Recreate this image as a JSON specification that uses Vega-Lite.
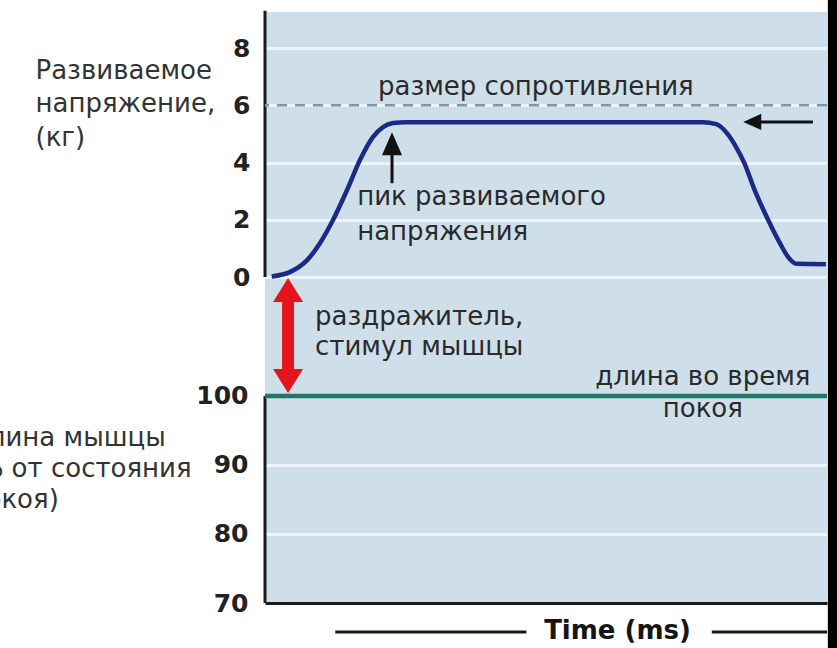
{
  "$schema": "https://vega.github.io/schema/vega-lite/v6.json",
  "width": 562,
  "height": 591,
  "autosize": {"type": "none"},
  "padding": {"left": 265, "top": 12, "right": 10, "bottom": 45},
  "background": "white",
  "config": {"font": "DejaVu Sans", "view": {"fill": "#cfdfea", "stroke": null}},
  "datasets": {
    "frameTop": [{"t": 0, "v": 0, "v2": 9.3}],
    "refTop": [{"v": 6}],
    "curve": [
      {"t": 1.2, "v": 0.02}, {"t": 4.4, "v": 0.17}, {"t": 7.5, "v": 0.59}, {"t": 9.8, "v": 1.19},
      {"t": 12.1, "v": 1.99}, {"t": 14.6, "v": 3.04}, {"t": 16.9, "v": 4.09}, {"t": 19.2, "v": 4.89},
      {"t": 21.0, "v": 5.24}, {"t": 22.8, "v": 5.38}, {"t": 25.0, "v": 5.41}, {"t": 77.9, "v": 5.41},
      {"t": 80.3, "v": 5.34}, {"t": 82.3, "v": 5.0}, {"t": 83.8, "v": 4.55}, {"t": 85.3, "v": 3.98},
      {"t": 87.0, "v": 3.1}, {"t": 89.3, "v": 2.09}, {"t": 91.6, "v": 1.19}, {"t": 93.4, "v": 0.62},
      {"t": 94.6, "v": 0.46}, {"t": 99.8, "v": 0.45}
    ],
    "shaftsTop": [
      {"t": 22.6, "t2": 22.6, "v": 3.28, "v2": 4.5},
      {"t": 87.5, "t2": 97.5, "v": 5.42, "v2": 5.42}
    ],
    "headUp": [{"t": 22.6, "v": 4.66}],
    "headLeft": [{"t": 86.7, "v": 5.42}],
    "stimShaft": [{"t": 4.1, "v": -0.7, "v2": -3.4}],
    "stimUp": [{"t": 4.1, "v": -0.45}],
    "stimDown": [{"t": 4.1, "v": -3.63}],
    "notesTop": [
      {"t": 20.1, "v": 6.36, "label": "размер сопротивления"},
      {"t": 16.4, "v": 2.52, "label": "пик развиваемого"},
      {"t": 16.4, "v": 1.29, "label": "напряжения"},
      {"t": 8.9, "v": -1.68, "label": "раздражитель,"},
      {"t": 8.9, "v": -2.73, "label": "стимул мышцы"}
    ],
    "strip": [{"t": 100.15, "t2": 102, "v": 9.8, "v2": -13.5}],
    "frameBottom": [{"t": 0, "len": 70, "len2": 100}],
    "restLine": [{"len": 100}],
    "notesBottom": [
      {"t": 77.9, "len": 101.6, "label": "длина во время"},
      {"t": 77.9, "len": 96.96, "label": "покоя"}
    ],
    "timeLines": [
      {"t": 12.5, "t2": 46.5, "len": 65.8},
      {"t": 79.5, "t2": 100, "len": 65.8}
    ]
  },
  "layer": [
    {
      "layer": [
        {
          "data": {"name": "frameTop"},
          "mark": {"type": "rule", "color": "#1a1a1a", "strokeWidth": 3},
          "encoding": {
            "x": {"field": "t", "type": "quantitative", "scale": {"domain": [0, 100], "nice": false, "zero": false},
              "axis": {"title": "Time (ms)", "labels": false, "ticks": false, "grid": false, "domain": true,
                "domainColor": "#1a1a1a", "domainWidth": 3, "titleFontSize": 26, "titleFontWeight": "bold",
                "titleColor": "#151515", "titleX": 352, "titleY": 35, "titleBaseline": "alphabetic", "titleAlign": "center"}},
            "y": {"field": "v", "type": "quantitative", "scale": {"domain": [-11.39, 9.26], "nice": false, "zero": false},
              "axis": {"orient": "left", "values": [0, 2, 4, 6, 8], "grid": true, "gridColor": "#edf5f9", "gridWidth": 3,
                "domain": false, "ticks": false, "labelFontSize": 25, "labelFontWeight": "bold", "labelColor": "#222",
                "labelPadding": 15, "labelOverlap": false,
                "title": ["Развиваемое", "напряжение,", "(кг)"], "titleAngle": 0, "titleAlign": "left",
                "titleBaseline": "alphabetic", "titleX": -230, "titleY": 66, "titleFontSize": 26,
                "titleFontWeight": "normal", "titleColor": "#333", "titleLineHeight": 33.5}},
            "y2": {"field": "v2"}
          }
        },
        {
          "data": {"name": "refTop"},
          "mark": {"type": "rule", "color": "#8494a0", "strokeWidth": 2.5, "strokeDash": [10, 8]},
          "encoding": {
            "y": {"field": "v", "type": "quantitative", "scale": {"domain": [-11.39, 9.26], "nice": false, "zero": false}}
          }
        },
        {
          "data": {"name": "curve"},
          "mark": {"type": "line", "color": "#1b2a84", "strokeWidth": 4.5, "interpolate": "monotone"},
          "encoding": {
            "x": {"field": "t", "type": "quantitative", "scale": {"domain": [0, 100], "nice": false, "zero": false}},
            "y": {"field": "v", "type": "quantitative", "scale": {"domain": [-11.39, 9.26], "nice": false, "zero": false}}
          }
        },
        {
          "data": {"name": "shaftsTop"},
          "mark": {"type": "rule", "color": "#111", "strokeWidth": 3},
          "encoding": {
            "x": {"field": "t", "type": "quantitative"},
            "x2": {"field": "t2"},
            "y": {"field": "v", "type": "quantitative"},
            "y2": {"field": "v2"}
          }
        },
        {
          "data": {"name": "headUp"},
          "mark": {"type": "point", "shape": "M0,-1L0.87,1L-0.87,1Z", "size": 529, "filled": true, "color": "#111", "opacity": 1},
          "encoding": {
            "x": {"field": "t", "type": "quantitative"},
            "y": {"field": "v", "type": "quantitative"}
          }
        },
        {
          "data": {"name": "headLeft"},
          "mark": {"type": "point", "shape": "M-1,0L1,-0.9L1,0.9Z", "size": 324, "filled": true, "color": "#111", "opacity": 1},
          "encoding": {
            "x": {"field": "t", "type": "quantitative"},
            "y": {"field": "v", "type": "quantitative"}
          }
        },
        {
          "data": {"name": "stimShaft"},
          "mark": {"type": "rule", "color": "#e3141b", "strokeWidth": 12},
          "encoding": {
            "x": {"field": "t", "type": "quantitative"},
            "y": {"field": "v", "type": "quantitative"},
            "y2": {"field": "v2"}
          }
        },
        {
          "data": {"name": "stimUp"},
          "mark": {"type": "point", "shape": "M0,-1L1.25,1L-1.25,1Z", "size": 576, "filled": true, "color": "#e3141b", "opacity": 1},
          "encoding": {
            "x": {"field": "t", "type": "quantitative"},
            "y": {"field": "v", "type": "quantitative"}
          }
        },
        {
          "data": {"name": "stimDown"},
          "mark": {"type": "point", "shape": "M0,1L1.25,-1L-1.25,-1Z", "size": 576, "filled": true, "color": "#e3141b", "opacity": 1},
          "encoding": {
            "x": {"field": "t", "type": "quantitative"},
            "y": {"field": "v", "type": "quantitative"}
          }
        },
        {
          "data": {"name": "notesTop"},
          "mark": {"type": "text", "align": "left", "baseline": "alphabetic", "fontSize": 26, "color": "#2a2a2a"},
          "encoding": {
            "x": {"field": "t", "type": "quantitative"},
            "y": {"field": "v", "type": "quantitative"},
            "text": {"field": "label"}
          }
        },
        {
          "data": {"name": "strip"},
          "mark": {"type": "rect", "color": "#000000"},
          "encoding": {
            "x": {"field": "t", "type": "quantitative"},
            "x2": {"field": "t2"},
            "y": {"field": "v", "type": "quantitative"},
            "y2": {"field": "v2"}
          }
        }
      ]
    },
    {
      "layer": [
        {
          "data": {"name": "frameBottom"},
          "mark": {"type": "rule", "color": "#1a1a1a", "strokeWidth": 3},
          "encoding": {
            "x": {"field": "t", "type": "quantitative", "scale": {"domain": [0, 100], "nice": false, "zero": false}},
            "y": {"field": "len", "type": "quantitative", "scale": {"domain": [70, 155.65], "nice": false, "zero": false},
              "axis": {"orient": "left", "values": [70, 80, 90, 100], "grid": true, "gridColor": "#edf5f9", "gridWidth": 3,
                "domain": false, "ticks": false, "labelFontSize": 25, "labelFontWeight": "bold", "labelColor": "#222",
                "labelPadding": 17, "labelOverlap": false,
                "title": ["Длина мышцы", "(% от состояния", "покоя)"], "titleAngle": 0, "titleAlign": "left",
                "titleBaseline": "alphabetic", "titleX": -297, "titleY": 433, "titleFontSize": 26,
                "titleFontWeight": "normal", "titleColor": "#333", "titleLineHeight": 31}},
            "y2": {"field": "len2"}
          }
        },
        {
          "data": {"name": "restLine"},
          "mark": {"type": "rule", "color": "#217866", "strokeWidth": 4.5},
          "encoding": {
            "y": {"field": "len", "type": "quantitative", "scale": {"domain": [70, 155.65], "nice": false, "zero": false}}
          }
        },
        {
          "data": {"name": "notesBottom"},
          "mark": {"type": "text", "align": "center", "baseline": "alphabetic", "fontSize": 26, "color": "#2a2a2a"},
          "encoding": {
            "x": {"field": "t", "type": "quantitative"},
            "y": {"field": "len", "type": "quantitative"},
            "text": {"field": "label"}
          }
        },
        {
          "data": {"name": "timeLines"},
          "mark": {"type": "rule", "color": "#1a1a1a", "strokeWidth": 3},
          "encoding": {
            "x": {"field": "t", "type": "quantitative"},
            "x2": {"field": "t2"},
            "y": {"field": "len", "type": "quantitative"}
          }
        }
      ]
    }
  ],
  "resolve": {"scale": {"y": "independent"}, "axis": {"y": "independent"}}
}
